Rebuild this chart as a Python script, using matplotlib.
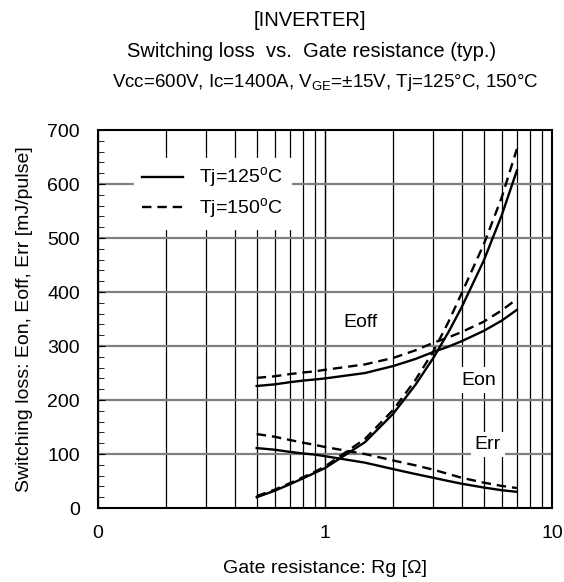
import numpy as np
import matplotlib.pyplot as plt
from matplotlib.ticker import FixedLocator, NullFormatter, MultipleLocator

plt.rcParams['font.family'] = ['Liberation Sans', 'DejaVu Sans']
plt.rcParams['mathtext.fontset'] = 'custom'
plt.rcParams['mathtext.rm'] = 'Liberation Sans'

# gate resistance [ohm]
rg = [0.5, 0.6, 0.7, 0.8, 0.9, 1.0, 1.5, 2.0, 2.5, 3.0, 3.5, 4.0, 5.0, 6.0, 7.0]

# switching loss [mJ/pulse]
eon_125 = [20, 32, 44, 55, 65, 74, 122, 175, 228, 278, 326, 372, 458, 542, 625]
eon_150 = [22, 34, 46, 57, 67, 77, 128, 182, 237, 290, 345, 398, 488, 575, 665]
eoff_125 = [226, 229, 233, 236, 238, 240, 250, 263, 276, 289, 299, 309, 328, 347, 367]
eoff_150 = [241, 244, 248, 251, 253, 256, 266, 278, 292, 306, 316, 326, 345, 366, 387]
err_125 = [111, 108, 104, 101, 99, 96, 84, 72, 63, 56, 50, 45, 38, 33, 30]
err_150 = [137, 132, 126, 121, 117, 113, 100, 88, 79, 71, 63, 56, 47, 41, 37]

xticks = [0.1, 1, 10]
xticklabels = ['0', '1', '10']

fig = plt.figure(figsize=(5.64, 5.82), dpi=100)
ax = fig.add_axes([0.1738, 0.1271, 0.8050, 0.6495])

# grid
vgrid = [m * d for d in (0.1, 1) for m in range(1, 11)]
for v in vgrid:
    ax.axvline(v, color='black', lw=0.9, zorder=1)
for h in range(100, 700, 100):
    ax.axhline(h, color='#808080', lw=1.6, zorder=1)

ax.plot(rg, eon_125, 'k-', lw=1.7, zorder=3)
ax.plot(rg, eon_150, 'k--', lw=1.7, zorder=3, dashes=(4, 2.5))
ax.plot(rg, eoff_125, 'k-', lw=1.7, zorder=3)
ax.plot(rg, eoff_150, 'k--', lw=1.7, zorder=3, dashes=(4, 2.5))
ax.plot(rg, err_125, 'k-', lw=1.7, zorder=3)
ax.plot(rg, err_150, 'k--', lw=1.7, zorder=3, dashes=(4, 2.5))

box = dict(facecolor='white', edgecolor='none', pad=3)
ax.text(1.44, 344, 'Eoff', fontsize=14, ha='center', va='center', bbox=box, zorder=2)
ax.text(4.77, 237, 'Eon', fontsize=14, ha='center', va='center', bbox=box, zorder=2)
ax.text(5.22, 117, 'Err', fontsize=14, ha='center', va='center', bbox=box, zorder=2)

# legend
h1, = ax.plot([], [], 'k-', lw=1.7)
h2, = ax.plot([], [], 'k--', lw=1.7, dashes=(4, 2.5))
leg = ax.legend([h1, h2], ['Tj=125$^{\\mathrm{o}}$C', 'Tj=150$^{\\mathrm{o}}$C'],
                loc='upper left', bbox_to_anchor=(0.079, 0.926), borderaxespad=0,
                fontsize=14, frameon=True, fancybox=False, framealpha=1,
                edgecolor='white', handlelength=2.1, handletextpad=0.85,
                borderpad=0.4, labelspacing=0.3)
leg.set_zorder(5)

ax.set_xscale('log')
ax.set_xlim(0.1, 10)
ax.set_ylim(0, 700)
ax.xaxis.set_major_locator(FixedLocator(xticks))
ax.set_xticklabels(xticklabels)
ax.xaxis.set_minor_formatter(NullFormatter())
ax.tick_params(axis='x', which='both', length=0, pad=12, labelsize=14)
ax.yaxis.set_major_locator(MultipleLocator(100))
ax.yaxis.set_minor_locator(MultipleLocator(20))
ax.tick_params(axis='y', which='major', direction='in', length=5, pad=13, labelsize=14)
ax.tick_params(axis='y', which='minor', direction='in', length=4)
for s in ax.spines.values():
    s.set_linewidth(1.5)
    s.set_zorder(6)

ax.set_xlabel('Gate resistance: Rg [Ω]', fontsize=14, labelpad=13)
ax.set_ylabel('Switching loss: Eon, Eoff, Err [mJ/pulse]', fontsize=14, labelpad=10)

fig.text(0.55, 0.965, '[INVERTER]', fontsize=14.5, ha='center', va='center')
fig.text(0.552, 0.912, 'Switching loss  vs.  Gate resistance (typ.)', fontsize=14.5,
         ha='center', va='center')
fig.text(0.577, 0.858, 'Vcc=600V, Ic=1400A, V$_{\\mathrm{GE}}$=±15V, Tj=125°C, 150°C',
         fontsize=13.5, ha='center', va='center')

fig.savefig('out.png', dpi=100)
